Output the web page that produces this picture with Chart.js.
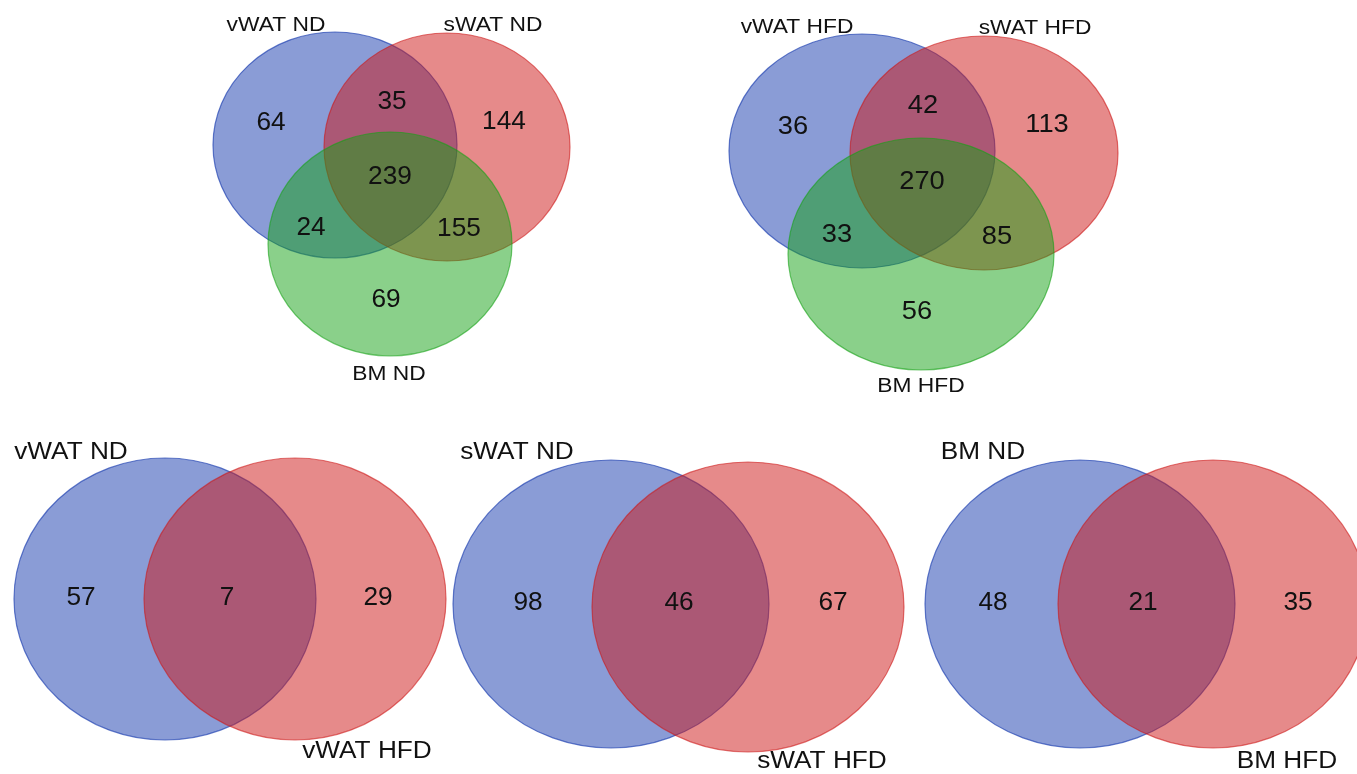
<!DOCTYPE html>
<html>
<head>
<meta charset="utf-8">
<script src="https://cdn.jsdelivr.net/npm/chart.js@4/dist/chart.umd.min.js"></script>
<style>
  html, body { margin: 0; padding: 0; background: #ffffff; }
  #wrap { width: 1357px; height: 774px; }
</style>
</head>
<body>
<div id="wrap"><canvas id="c" width="1357" height="774"></canvas></div>
<script>
// ---------- data ----------
// three-set diagrams, region order: A only, A∩B, B only, A∩C, A∩B∩C, B∩C, C only
const ndSets = ['vWAT ND', 'sWAT ND', 'BM ND'];
const ndCounts = [64, 35, 144, 24, 239, 155, 69];
const hfdSets = ['vWAT HFD', 'sWAT HFD', 'BM HFD'];
const hfdCounts = [36, 42, 113, 33, 270, 85, 56];
// two-set diagrams, region order: A only, A∩B, B only
const vwatSets = ['vWAT ND', 'vWAT HFD'];
const vwatCounts = [57, 7, 29];
const swatSets = ['sWAT ND', 'sWAT HFD'];
const swatCounts = [98, 46, 67];
const bmSets = ['BM ND', 'BM HFD'];
const bmCounts = [48, 21, 35];

// ---------- styles ----------
const setColors = [
  { fill: 'rgba(21,57,173,0.5)',  stroke: 'rgba(21,57,173,0.65)' },
  { fill: 'rgba(205,21,21,0.5)',  stroke: 'rgba(205,21,21,0.6)' },
  { fill: 'rgba(21,161,21,0.5)',  stroke: 'rgba(21,161,21,0.6)' }
];

// ---------- layout (in scale units) ----------
const panels = [
  { sets: ndSets, counts: ndCounts, labelSize: 20, numSize: 25,
    ellipses: [[335,145,122,113],[447,147,123,114],[390,244,122,112]],
    labelPos: [[276,25],[493,25],[389,374]],
    numPos: [[271,123],[392,102],[504,122],[311,228],[390,177],[459,229],[386,300]] },
  { sets: hfdSets, counts: hfdCounts, labelSize: 20, numSize: 26,
    ellipses: [[862,151,133,117],[984,153,134,117],[921,254,133,116]],
    labelPos: [[797,27],[1035,28],[921,386]],
    numPos: [[793,127],[923,106],[1047,125],[837,235],[922,182],[997,237],[917,312]] },
  { sets: vwatSets, counts: vwatCounts, labelSize: 23, numSize: 25,
    ellipses: [[165,599,151,141],[295,599,151,141]],
    labelPos: [[71,453],[367,752]],
    numPos: [[81,598],[227,598],[378,598]] },
  { sets: swatSets, counts: swatCounts, labelSize: 23, numSize: 25,
    ellipses: [[611,604,158,144],[748,607,156,145]],
    labelPos: [[517,453],[822,762]],
    numPos: [[528,603],[679,603],[833,603]] },
  { sets: bmSets, counts: bmCounts, labelSize: 23, numSize: 25,
    ellipses: [[1080,604,155,144],[1213,604,155,144]],
    labelPos: [[983,453],[1287,762]],
    numPos: [[993,603],[1143,603],[1298,603]] }
];

const FONT = '"Liberation Sans", Arial, Helvetica, sans-serif';

function drawText(ctx, txt, px, py, size, sx) {
  ctx.save();
  ctx.translate(px, py);
  ctx.scale(sx, 1);
  ctx.font = size + 'px ' + FONT;
  ctx.textAlign = 'center';
  ctx.textBaseline = 'middle';
  ctx.fillStyle = '#111111';
  ctx.fillText(txt, 0, 0);
  ctx.restore();
}

const vennPlugin = {
  id: 'venn',
  afterDraw(chart) {
    const ctx = chart.ctx;
    const xs = chart.scales.x, ys = chart.scales.y;
    panels.forEach(p => {
      p.ellipses.forEach((e, i) => {
        const cx = xs.getPixelForValue(e[0]);
        const cy = ys.getPixelForValue(e[1]);
        const rx = Math.abs(xs.getPixelForValue(e[0] + e[2]) - cx);
        const ry = Math.abs(ys.getPixelForValue(e[1] + e[3]) - cy);
        ctx.save();
        ctx.beginPath();
        ctx.ellipse(cx, cy, rx, ry, 0, 0, Math.PI * 2);
        ctx.fillStyle = setColors[i].fill;
        ctx.fill();
        ctx.lineWidth = 1.2;
        ctx.strokeStyle = setColors[i].stroke;
        ctx.stroke();
        ctx.restore();
      });
      p.counts.forEach((v, i) => {
        const q = p.numPos[i];
        drawText(ctx, String(v), xs.getPixelForValue(q[0]), ys.getPixelForValue(q[1]), p.numSize, 1.05);
      });
      p.sets.forEach((s, i) => {
        const q = p.labelPos[i];
        drawText(ctx, s, xs.getPixelForValue(q[0]), ys.getPixelForValue(q[1]), p.labelSize, 1.14);
      });
    });
  }
};

new Chart(document.getElementById('c'), {
  type: 'scatter',
  data: { datasets: [] },
  options: {
    responsive: false,
    animation: false,
    devicePixelRatio: 1,
    events: [],
    layout: { padding: 0 },
    plugins: { legend: { display: false }, tooltip: { enabled: false }, title: { display: false } },
    scales: {
      x: { type: 'linear', min: 0, max: 1357, display: false },
      y: { type: 'linear', min: 0, max: 774, reverse: true, display: false }
    }
  },
  plugins: [vennPlugin]
});
</script>
</body>
</html>
